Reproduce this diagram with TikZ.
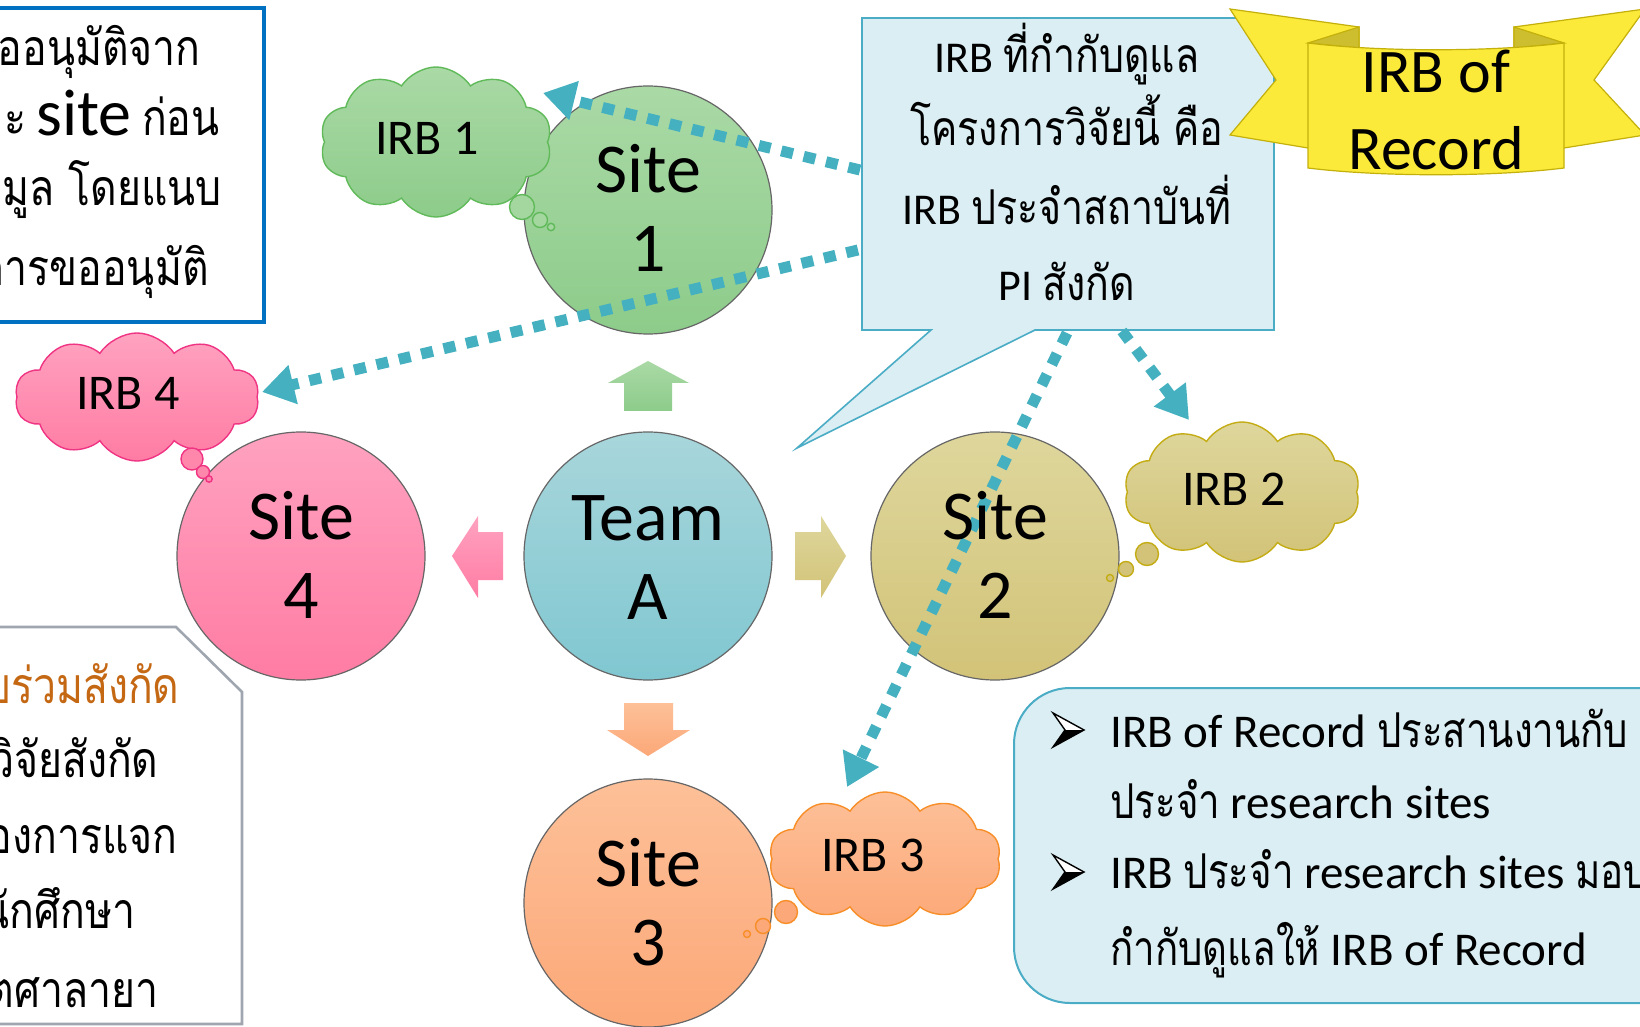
\documentclass[tikz,border=0pt]{standalone}
\usepackage{fontspec}
\setmainfont{Carlito}
\newfontfamily\thai[Script=Thai,FakeStretch=0.82]{Loma}
\newfontfamily\thain[Script=Thai,FakeStretch=0.8]{Loma}
\usetikzlibrary{shapes.symbols,arrows.meta}
\definecolor{dotc}{RGB}{69,177,192}
\definecolor{calfill}{RGB}{218,238,243}
\definecolor{caldraw}{RGB}{75,172,198}
\definecolor{ribfill}{RGB}{252,234,58}
\definecolor{ribdark}{RGB}{205,190,48}
\definecolor{ribdraw}{RGB}{196,176,10}
\definecolor{boxblue}{RGB}{0,112,192}
\definecolor{boxgray}{RGB}{160,166,176}
\definecolor{thorange}{RGB}{197,104,20}
\definecolor{gT}{RGB}{170,217,166}\definecolor{gB}{RGB}{141,204,138}\definecolor{gD}{RGB}{96,186,90}
\definecolor{pT}{RGB}{255,162,192}\definecolor{pB}{RGB}{255,124,164}\definecolor{pD}{RGB}{240,52,132}
\definecolor{yT}{RGB}{222,214,156}\definecolor{yB}{RGB}{210,195,120}\definecolor{yD}{RGB}{196,172,20}
\definecolor{oT}{RGB}{253,192,152}\definecolor{oB}{RGB}{252,168,120}\definecolor{oD}{RGB}{247,142,40}
\definecolor{tT}{RGB}{168,214,219}\definecolor{tB}{RGB}{128,199,209}
\newcommand\thL[1]{{\fontsize{25}{30}\selectfont\thai #1}}
\newcommand\thC[1]{{\fontsize{24}{28}\selectfont\thai #1}}
\newcommand\thR[1]{{\fontsize{24}{28}\selectfont\thain #1}}
\begin{document}
\begin{tikzpicture}[x=0.5pt,y=-0.5pt,
  sitecirc/.style={circle,minimum size=124pt,inner sep=0pt,draw=black!60,line width=0.6pt},
  sitelab/.style={anchor=base,inner sep=0pt,font=\fontsize{35}{40}\selectfont},
  irbcloud/.style={cloud,cloud puffs=10,cloud puff arc=115,cloud ignores aspect,inner sep=0pt,line width=0.7pt},
  cloudlab/.style={inner sep=0pt,font=\fontsize{25}{30}\selectfont},
  bub/.style={circle,inner sep=0pt,line width=0.7pt},
  dotarrow/.style={draw=dotc,line width=5.5pt,dash pattern=on 6pt off 5.5pt,-{Triangle[length=16pt,width=19pt]}},
  calltxt/.style={anchor=base,inner sep=0pt,font=\fontsize{22}{26}\selectfont},
  ribtxt/.style={anchor=base,inner sep=0pt,font=\fontsize{31}{36}\selectfont},
  lefttxt/.style={anchor=base east,inner sep=0pt,font=\fontsize{23}{28}\selectfont},
  brtxt/.style={anchor=base west,inner sep=0pt,font=\fontsize{23.5}{28}\selectfont},
  bulletarrow/.pic={\draw[line width=0.7pt,fill=white,line join=miter] (0,-17) -- (31,0) -- (0,17) -- (12,0) -- cycle;
                    \fill (12,0) -- (31,0) -- (0,17) -- cycle;}
]
\useasboundingbox (0,0) rectangle (1640,1027);
\fill[white] (0,0) rectangle (1640,1027);

% side boxes
\draw[boxblue,line width=2pt,fill=white] (-20,8) rectangle (264,322);
\draw[boxgray,line width=1.3pt,fill=white] (-20,627) -- (176,627) -- (242,692) -- (242,1024) -- (-20,1024) -- cycle;
\draw[caldraw,line width=1pt,fill=calfill,rounded corners=28pt] (1014,688) rectangle (1700,1003);

% callout
\draw[caldraw,line width=0.8pt,fill=calfill] (862,18) -- (1274,18) -- (1274,330) -- (1035,330) -- (797,448) -- (931,330) -- (862,330) -- cycle;

% ribbon
\draw[ribdraw,line width=0.6pt,fill=ribfill] (1230,9) -- (1359,27) -- (1359,140) -- (1308,148) -- (1230,135) -- (1276,80) -- cycle;
\draw[ribdraw,line width=0.6pt,fill=ribfill] (1645,9) -- (1514,27) -- (1514,140) -- (1564,148) -- (1645,135) -- (1594,80) -- cycle;
\draw[ribdraw,line width=0.6pt,fill=ribdark] (1308,43) -- (1359,27) -- (1359,48) -- cycle;
\draw[ribdraw,line width=0.6pt,fill=ribdark] (1564,43) -- (1514,27) -- (1514,48) -- cycle;
\draw[ribdraw,line width=0.6pt,fill=ribfill] (1308,43) .. controls (1380,52) and (1492,52) .. (1564,43) -- (1564,168) .. controls (1492,177) and (1380,177) .. (1308,168) -- cycle;

% block arrows
\shade[top color=gT,bottom color=gB] (648,361) -- (689,383) -- (672,383) -- (672,411) -- (624,411) -- (624,383) -- (608,383) -- cycle;
\shade[top color=pT,bottom color=pB] (452,556) -- (478,516) -- (478,532) -- (503,532) -- (503,580) -- (478,580) -- (478,598) -- cycle;
\shade[top color=yT,bottom color=yB] (846,556) -- (821,516) -- (821,532) -- (795,532) -- (795,580) -- (821,580) -- (821,598) -- cycle;
\shade[top color=oT,bottom color=oB] (648,756) -- (690,730) -- (673,730) -- (673,703) -- (624,703) -- (624,730) -- (607,730) -- cycle;

% circles
\node[sitecirc,top color=gT,bottom color=gB] (site1) at (648,210) {};
\node[sitecirc,top color=tT,bottom color=tB] (teama) at (648,556) {};
\node[sitecirc,top color=pT,bottom color=pB] (site4) at (301,556) {};
\node[sitecirc,top color=yT,bottom color=yB] (site2) at (995,556) {};
\node[sitecirc,top color=oT,bottom color=oB] (site3) at (648,903) {};

% clouds
\node[irbcloud,draw=gD,top color=gT,bottom color=gB,minimum width=116pt,minimum height=75pt] (irb1) at (436,142) {};
\node[irbcloud,draw=pD,top color=pT,bottom color=pB,minimum width=122pt,minimum height=64pt] (irb4) at (137,397) {};
\node[irbcloud,draw=yD,top color=yT,bottom color=yB,minimum width=118pt,minimum height=70pt] (irb2) at (1242,492) {};
\node[irbcloud,draw=oD,top color=oT,bottom color=oB,minimum width=116pt,minimum height=67pt] (irb3) at (885,859) {};
\node[bub,draw=gD,fill=gT!80!gB,minimum size=12.5pt] (b1a) at (522,207) {};
\node[bub,draw=gD,fill=gT!80!gB,minimum size=7.5pt] (b1b) at (540,220) {};
\node[bub,draw=gD,fill=gT!80!gB,minimum size=3.7pt] (b1c) at (551,227) {};
\node[bub,draw=pD,fill=pB!70!pT,minimum size=11pt] (b4a) at (192,459) {};
\node[bub,draw=pD,fill=pB!70!pT,minimum size=6.5pt] (b4b) at (203,472) {};
\node[bub,draw=pD,fill=pB!70!pT,minimum size=3.2pt] (b4c) at (209,479) {};
\node[bub,draw=yD,fill=yB,minimum size=11.5pt] (b2a) at (1147,554) {};
\node[bub,draw=yD,fill=yB,minimum size=7.5pt] (b2b) at (1126,569) {};
\node[bub,draw=yD,fill=yB,minimum size=3.5pt] (b2c) at (1110,578) {};
\node[bub,draw=oD,fill=oB,minimum size=11.5pt] (b3a) at (786,912) {};
\node[bub,draw=oD,fill=oB,minimum size=7.5pt] (b3b) at (763,926) {};
\node[bub,draw=oD,fill=oB,minimum size=3.5pt] (b3c) at (747,934) {};

% dotted arrows
\coordinate (d1s) at (860,170); \coordinate (d1e) at (543,93);
\coordinate (d2s) at (858,250); \coordinate (d2e) at (262,392);
\coordinate (d3s) at (1067,333); \coordinate (d3e) at (847,787);
\coordinate (d4s) at (1122,331); \coordinate (d4e) at (1189,420);
\draw[dotarrow] (d1s) -- (d1e);
\draw[dotarrow] (d2s) -- (d2e);
\draw[dotarrow] (d3s) -- (d3e);
\draw[dotarrow] (d4s) -- (d4e);

% site labels
\node[sitelab] (s1a) at (648,193) {Site};
\node[sitelab] (s1b) at (648,272) {1};
\node[sitelab] (taa) at (648,540) {Team};
\node[sitelab] (tab) at (648,619) {A};
\node[sitelab] (s4a) at (301,539) {Site};
\node[sitelab] (s4b) at (301,618) {4};
\node[sitelab] (s2a) at (995,539) {Site};
\node[sitelab] (s2b) at (995,618) {2};
\node[sitelab] (s3a) at (648,886) {Site};
\node[sitelab] (s3b) at (648,965) {3};

% cloud labels
\node[cloudlab] (t1) at (427,138) {IRB 1};
\node[cloudlab] (t4) at (128,393) {IRB 4};
\node[cloudlab] (t2) at (1234,489) {IRB 2};
\node[cloudlab] (t3) at (873,855) {IRB 3};

% callout text
\node[calltxt] (cl1) at (1067,73) {IRB \thC{ที่กำกับดูแล}};
\node[calltxt] (cl2) at (1067,146) {\thC{โครงการวิจัยนี้ คือ}};
\node[calltxt] (cl3) at (1067,225) {IRB \thC{ประจำสถาบันที่}};
\node[calltxt] (cl4) at (1067,301) {PI \thC{สังกัด}};

% ribbon text
\node[ribtxt] (rb1) at (1436,93) {IRB of};
\node[ribtxt] (rb2) at (1436,170) {Record};

% top-left box text
\node[lefttxt] (tl1) at (201,66) {\thL{ขออนุมัติจาก}};
\node[lefttxt] (tl2) at (220,136) {\thL{ละ} {\fontsize{33}{38}\selectfont site} \thL{ก่อน}};
\node[lefttxt] (tl3) at (222,206) {\thL{ข้อมูล โดยแนบ}};
\node[lefttxt] (tl4) at (209,286) {\thL{การขออนุมัติ}};

% bottom-left box text
\node[lefttxt,text=thorange] (bl1) at (180,703) {\thL{ผู้วิจัยร่วมสังกัด}};
\node[lefttxt] (bl2) at (159,777) {\thL{ผู้วิจัยสังกัด}};
\node[lefttxt] (bl3) at (178,853) {\thL{ต้องการแจก}};
\node[lefttxt] (bl4) at (136,928) {\thL{นักศึกษา}};
\node[lefttxt] (bl5) at (159,1007) {\thL{เขตศาลายา}};

% bottom-right box
\pic at (1053,730) {bulletarrow};
\pic at (1053,872) {bulletarrow};
\node[brtxt] (br1) at (1110,747) {IRB of Record \thR{ประสานงานกับ}};
\node[brtxt] (br2) at (1110,818) {\thR{ประจำ} research sites};
\node[brtxt] (br3) at (1110,888) {IRB \thR{ประจำ} research sites \thR{มอบ}};
\node[brtxt] (br4) at (1110,965) {\thR{กำกับดูแลให้} IRB of Record};
\end{tikzpicture}
\end{document}
